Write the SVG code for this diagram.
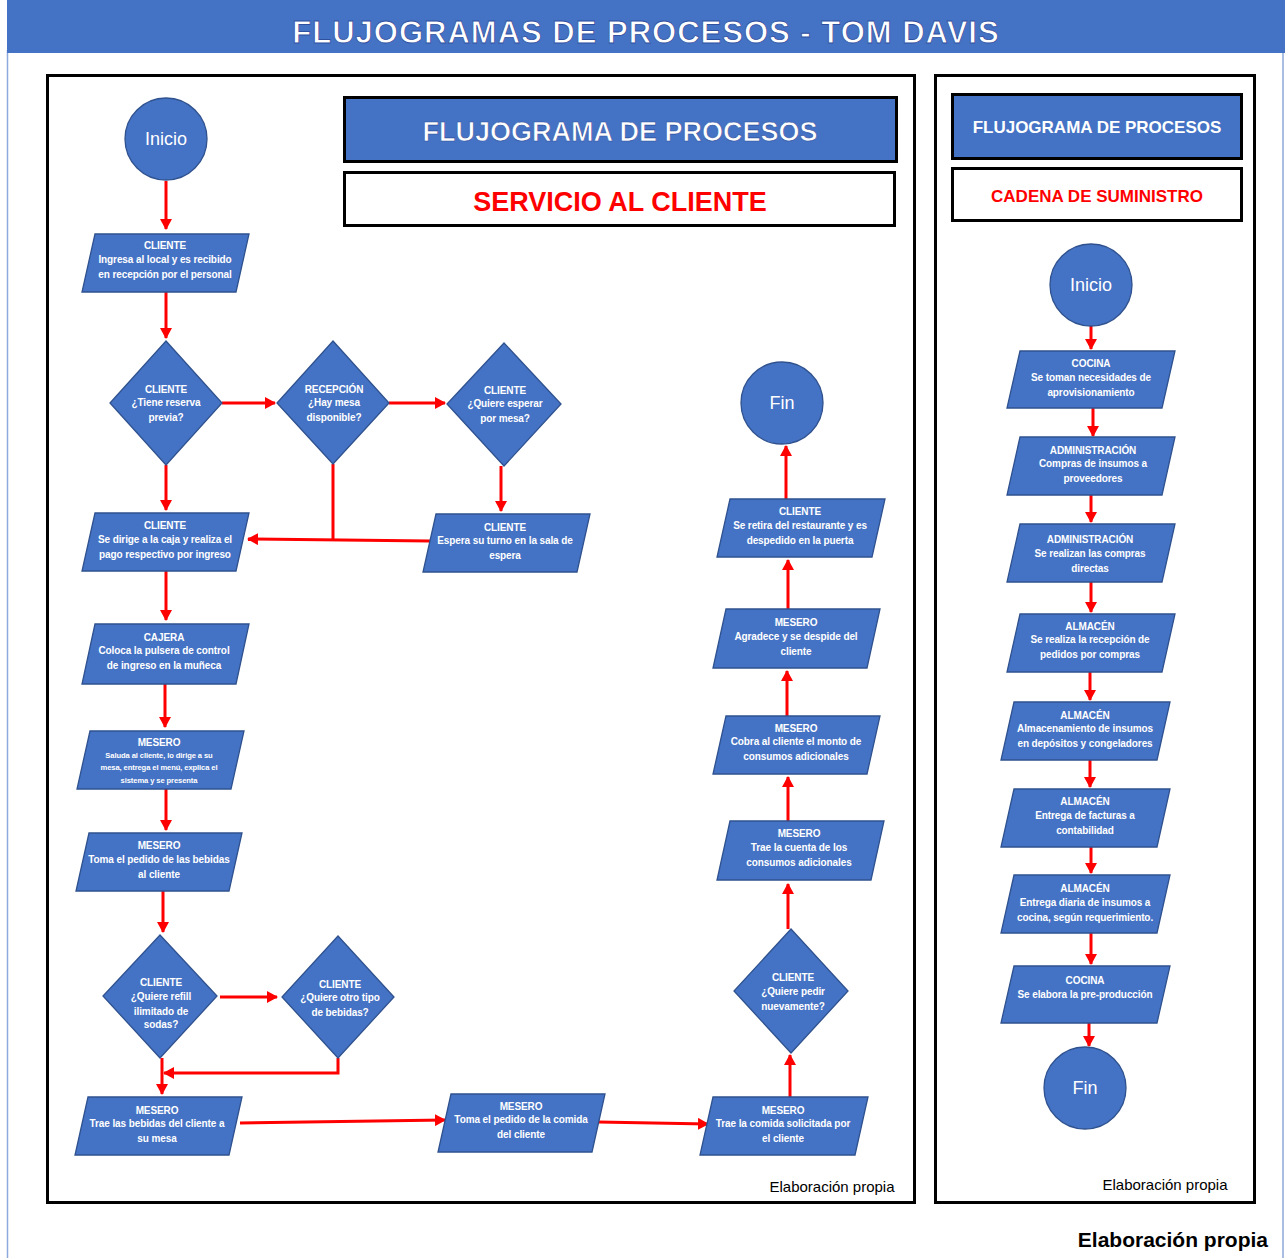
<svg xmlns="http://www.w3.org/2000/svg" width="1285" height="1258" viewBox="0 0 1285 1258">
<defs>
<style>
.bg{fill:#ffffff}
.frame{fill:none;stroke:#000;stroke-width:3}
.hdr{fill:#4472C4;stroke:#000;stroke-width:3}
.hdrw{fill:#fff;stroke:#000;stroke-width:3}
.shape{fill:#4472C4;stroke:#2F528F;stroke-width:1.3}
.t{font-family:"Liberation Sans",Arial,sans-serif;font-weight:bold;fill:#fff;text-anchor:middle;font-size:10px;letter-spacing:-0.1px}
.ts{font-family:"Liberation Sans",Arial,sans-serif;font-weight:bold;fill:#fff;text-anchor:middle;font-size:7.6px;letter-spacing:-0.1px}
.ct{font-family:"Liberation Sans",Arial,sans-serif;fill:#fff;text-anchor:middle;font-size:18px}
.big{font-family:"Liberation Sans",Arial,sans-serif;font-weight:bold;text-anchor:middle}
.foot{font-family:"Liberation Sans",Arial,sans-serif;font-size:15px;fill:#000;text-anchor:middle}
.conn path{fill:none;stroke:#FF0000;stroke-width:3}
</style>
<marker id="ah" markerWidth="12" markerHeight="12" refX="10" refY="6" orient="auto" markerUnits="userSpaceOnUse">
<path d="M0,0 L11,6 L0,12 z" fill="#FF0000"/>
</marker>
</defs>
<rect class="bg" x="0" y="0" width="1285" height="1258"/>
<line x1="7.5" y1="50" x2="7.5" y2="1258" stroke="#8EA9DB" stroke-width="1.5"/>
<line x1="1283" y1="50" x2="1283" y2="1258" stroke="#8EA9DB" stroke-width="1.5"/>
<g id="title">
<rect x="7" y="0" width="1278" height="53" fill="#4472C4"/>
<text class="big" x="646" y="43" font-size="31" fill="#fff" stroke="#2F4F9F" stroke-width="0.8" letter-spacing="1">FLUJOGRAMAS DE PROCESOS - TOM DAVIS</text>
</g>
<g id="frames">
<rect class="frame" x="47.5" y="75.5" width="867" height="1127"/>
<rect class="frame" x="935.5" y="75.5" width="319" height="1127"/>
</g>
<g id="header-left">
<rect class="hdr" x="344.5" y="97.5" width="552" height="64"/>
<text class="big" x="620" y="141" font-size="27" fill="#fff" stroke="#2F4F9F" stroke-width="0.6">FLUJOGRAMA DE PROCESOS</text>
<rect class="hdrw" x="344.5" y="172.5" width="550" height="53"/>
<text class="big" x="620" y="211" font-size="27" fill="#FF0000">SERVICIO AL CLIENTE</text>
</g>
<g id="header-right">
<rect class="hdr" x="952.5" y="94.5" width="289" height="64"/>
<text class="big" x="1097" y="133" font-size="17" fill="#fff">FLUJOGRAMA DE PROCESOS</text>
<rect class="hdrw" x="952.5" y="168.5" width="289" height="52"/>
<text class="big" x="1097" y="202" font-size="17" fill="#FF0000">CADENA DE SUMINISTRO</text>
</g>

<g class="conn" id="connectors">
<path d="M166,181 V229" marker-end="url(#ah)"/>
<path d="M166,292 V338" marker-end="url(#ah)"/>
<path d="M222,403 H275" marker-end="url(#ah)"/>
<path d="M389,403 H445" marker-end="url(#ah)"/>
<path d="M166,465 V510" marker-end="url(#ah)"/>
<path d="M501,466 V511" marker-end="url(#ah)"/>
<path d="M333,464 V540"/>
<path d="M430,541 L248,539" marker-end="url(#ah)"/>
<path d="M166,571 V620" marker-end="url(#ah)"/>
<path d="M165,684 V727" marker-end="url(#ah)"/>
<path d="M166,789 V830" marker-end="url(#ah)"/>
<path d="M163,891 V932" marker-end="url(#ah)"/>
<path d="M220,997 H277" marker-end="url(#ah)"/>
<path d="M162,1058 V1094" marker-end="url(#ah)"/>
<path d="M338,1058 V1073 H164" marker-end="url(#ah)"/>
<path d="M240,1123 L445,1120" marker-end="url(#ah)"/>
<path d="M598,1122 L708,1124" marker-end="url(#ah)"/>
<path d="M790,1097 V1055" marker-end="url(#ah)"/>
<path d="M788,929 V884" marker-end="url(#ah)"/>
<path d="M788,821 V777" marker-end="url(#ah)"/>
<path d="M787,716 V671" marker-end="url(#ah)"/>
<path d="M788,609 V560" marker-end="url(#ah)"/>
<path d="M786,499 V446" marker-end="url(#ah)"/>
<path d="M1091,326 V349" marker-end="url(#ah)"/>
<path d="M1093,408 V436" marker-end="url(#ah)"/>
<path d="M1091,495 V522" marker-end="url(#ah)"/>
<path d="M1091,582 V612" marker-end="url(#ah)"/>
<path d="M1090,672 V700" marker-end="url(#ah)"/>
<path d="M1090,760 V787" marker-end="url(#ah)"/>
<path d="M1091,847 V873" marker-end="url(#ah)"/>
<path d="M1091,933 V964" marker-end="url(#ah)"/>
<path d="M1089,1023 V1046" marker-end="url(#ah)"/>
</g>

<g id="inicio-left"><circle class="shape" cx="166" cy="139" r="41"/><text class="ct" x="166" y="145">Inicio</text></g>
<g id="n-ingresa"><polygon class="shape" points="95,234 249,234 236,292 82,292"/>
<text class="t" x="165" y="249">CLIENTE</text><text class="t" x="165" y="263">Ingresa al local y es recibido</text><text class="t" x="165" y="278">en recepción por el personal</text></g>
<g id="d-reserva"><polygon class="shape" points="166,341 222,403 166,465 110,403"/>
<text class="t" x="166" y="393">CLIENTE</text><text class="t" x="166" y="406">¿Tiene reserva</text><text class="t" x="166" y="421">previa?</text></g>
<g id="d-mesa"><polygon class="shape" points="333,341 389,403 333,464 277,403"/>
<text class="t" x="334" y="393">RECEPCIÓN</text><text class="t" x="334" y="406">¿Hay mesa</text><text class="t" x="334" y="421">disponible?</text></g>
<g id="d-esperar"><polygon class="shape" points="504,343 561,404 504,466 447,404"/>
<text class="t" x="505" y="394">CLIENTE</text><text class="t" x="505" y="407">¿Quiere esperar</text><text class="t" x="505" y="422">por mesa?</text></g>
<g id="n-espera"><polygon class="shape" points="436,514 590,514 577,572 423,572"/>
<text class="t" x="505" y="531">CLIENTE</text><text class="t" x="505" y="544">Espera su turno en la sala de</text><text class="t" x="505" y="559">espera</text></g>
<g id="n-caja"><polygon class="shape" points="95,513 249,513 236,571 82,571"/>
<text class="t" x="165" y="529">CLIENTE</text><text class="t" x="165" y="543">Se dirige a la caja y realiza el</text><text class="t" x="165" y="558">pago respectivo por ingreso</text></g>
<g id="n-cajera"><polygon class="shape" points="95,624 249,624 236,684 82,684"/>
<text class="t" x="164" y="641">CAJERA</text><text class="t" x="164" y="654">Coloca la pulsera de control</text><text class="t" x="164" y="669">de ingreso en la muñeca</text></g>
<g id="n-saluda"><polygon class="shape" points="90,731 244,731 231,789 77,789"/>
<text class="t" x="159" y="746">MESERO</text><text class="ts" x="159" y="758">Saluda al cliente, lo dirige a su</text><text class="ts" x="159" y="770">mesa, entrega el menú, explica el</text><text class="ts" x="159" y="783">sistema y se presenta</text></g>
<g id="n-bebidas"><polygon class="shape" points="89,833 242,833 229,891 76,891"/>
<text class="t" x="159" y="849">MESERO</text><text class="t" x="159" y="863">Toma el pedido de las bebidas</text><text class="t" x="159" y="878">al cliente</text></g>
<g id="d-refill"><polygon class="shape" points="160,935 217,996 160,1058 103,996"/>
<text class="t" x="161" y="986">CLIENTE</text><text class="t" x="161" y="1000">¿Quiere refill</text><text class="t" x="161" y="1015">ilimitado de</text><text class="t" x="161" y="1028">sodas?</text></g>
<g id="d-otro"><polygon class="shape" points="338,936 394,997 338,1058 282,997"/>
<text class="t" x="340" y="988">CLIENTE</text><text class="t" x="340" y="1001">¿Quiere otro tipo</text><text class="t" x="340" y="1016">de bebidas?</text></g>
<g id="n-trae-bebidas"><polygon class="shape" points="88,1097 242,1097 229,1155 75,1155"/>
<text class="t" x="157" y="1114">MESERO</text><text class="t" x="157" y="1127">Trae las bebidas del cliente a</text><text class="t" x="157" y="1142">su mesa</text></g>
<g id="n-comida"><polygon class="shape" points="451,1094 605,1094 592,1152 438,1152"/>
<text class="t" x="521" y="1110">MESERO</text><text class="t" x="521" y="1123">Toma el pedido de la comida</text><text class="t" x="521" y="1138">del cliente</text></g>
<g id="n-trae-comida"><polygon class="shape" points="713,1097 868,1097 855,1155 700,1155"/>
<text class="t" x="783" y="1114">MESERO</text><text class="t" x="783" y="1127">Trae la comida solicitada por</text><text class="t" x="783" y="1142">el cliente</text></g>
<g id="d-nuevamente"><polygon class="shape" points="791,929 848,991 791,1053 734,991"/>
<text class="t" x="793" y="981">CLIENTE</text><text class="t" x="793" y="995">¿Quiere pedir</text><text class="t" x="793" y="1010">nuevamente?</text></g>
<g id="n-cuenta"><polygon class="shape" points="730,821 884,821 871,880 717,880"/>
<text class="t" x="799" y="837">MESERO</text><text class="t" x="799" y="851">Trae la cuenta de los</text><text class="t" x="799" y="866">consumos adicionales</text></g>
<g id="n-cobra"><polygon class="shape" points="726,716 880,716 867,774 713,774"/>
<text class="t" x="796" y="732">MESERO</text><text class="t" x="796" y="745">Cobra al cliente el monto de</text><text class="t" x="796" y="760">consumos adicionales</text></g>
<g id="n-agradece"><polygon class="shape" points="726,609 880,609 867,668 713,668"/>
<text class="t" x="796" y="626">MESERO</text><text class="t" x="796" y="640">Agradece y se despide del</text><text class="t" x="796" y="655">cliente</text></g>
<g id="n-retira"><polygon class="shape" points="730,499 885,499 872,557 717,557"/>
<text class="t" x="800" y="515">CLIENTE</text><text class="t" x="800" y="529">Se retira del restaurante y es</text><text class="t" x="800" y="544">despedido en la puerta</text></g>
<g id="fin-left"><circle class="shape" cx="782" cy="403" r="41"/><text class="ct" x="782" y="409">Fin</text></g>

<g id="inicio-right"><circle class="shape" cx="1091" cy="285" r="41"/><text class="ct" x="1091" y="291">Inicio</text></g>
<g id="r-cocina1"><polygon class="shape" points="1020,351 1175,351 1162,408 1007,408"/>
<text class="t" x="1091" y="367">COCINA</text><text class="t" x="1091" y="381">Se toman necesidades de</text><text class="t" x="1091" y="396">aprovisionamiento</text></g>
<g id="r-admin1"><polygon class="shape" points="1020,437 1175,437 1162,495 1007,495"/>
<text class="t" x="1093" y="454">ADMINISTRACIÓN</text><text class="t" x="1093" y="467">Compras de insumos a</text><text class="t" x="1093" y="482">proveedores</text></g>
<g id="r-admin2"><polygon class="shape" points="1020,524 1175,524 1162,582 1007,582"/>
<text class="t" x="1090" y="543">ADMINISTRACIÓN</text><text class="t" x="1090" y="557">Se realizan las compras</text><text class="t" x="1090" y="572">directas</text></g>
<g id="r-alm1"><polygon class="shape" points="1020,614 1175,614 1162,672 1007,672"/>
<text class="t" x="1090" y="630">ALMACÉN</text><text class="t" x="1090" y="643">Se realiza la recepción de</text><text class="t" x="1090" y="658">pedidos por compras</text></g>
<g id="r-alm2"><polygon class="shape" points="1014,702 1170,702 1157,760 1001,760"/>
<text class="t" x="1085" y="719">ALMACÉN</text><text class="t" x="1085" y="732">Almacenamiento de insumos</text><text class="t" x="1085" y="747">en depósitos y congeladores</text></g>
<g id="r-alm3"><polygon class="shape" points="1014,789 1170,789 1157,847 1001,847"/>
<text class="t" x="1085" y="805">ALMACÉN</text><text class="t" x="1085" y="819">Entrega de facturas a</text><text class="t" x="1085" y="834">contabilidad</text></g>
<g id="r-alm4"><polygon class="shape" points="1014,875 1170,875 1157,933 1001,933"/>
<text class="t" x="1085" y="892">ALMACÉN</text><text class="t" x="1085" y="906">Entrega diaria de insumos a</text><text class="t" x="1085" y="921">cocina, según requerimiento.</text></g>
<g id="r-cocina2"><polygon class="shape" points="1014,966 1170,966 1157,1023 1001,1023"/>
<text class="t" x="1085" y="984">COCINA</text><text class="t" x="1085" y="998">Se elabora la pre-producción</text></g>
<g id="fin-right"><circle class="shape" cx="1085" cy="1088" r="41"/><text class="ct" x="1085" y="1094">Fin</text></g>

<g id="footers">
<text class="foot" x="832" y="1192">Elaboración propia</text>
<text class="foot" x="1165" y="1190">Elaboración propia</text>
<text x="1268" y="1247" font-family="'Liberation Sans',Arial,sans-serif" font-weight="bold" font-size="21" text-anchor="end" fill="#000">Elaboración propia</text>
</g>
</svg>
